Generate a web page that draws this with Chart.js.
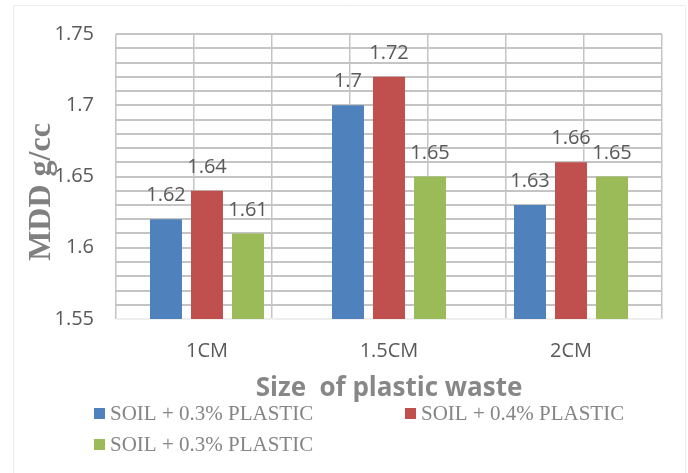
<!DOCTYPE html>
<html>
<head>
<meta charset="utf-8">
<title>MDD vs size of plastic waste</title>
<script src="https://cdn.jsdelivr.net/npm/chart.js@4.4.0/dist/chart.umd.min.js"></script>
<style>
  html, body { margin: 0; padding: 0; background: #fff; }
  #wrap { position: relative; width: 688px; height: 473px; }
</style>
</head>
<body>
<div id="wrap"><canvas id="mddChart" width="688" height="473"></canvas></div>
<script>
// categories and series
const sizes = ["1CM", "1.5CM", "2CM"];
const seriesNames = ["SOIL + 0.3% PLASTIC", "SOIL + 0.4% PLASTIC", "SOIL + 0.3% PLASTIC"];
const soil03a = [1.62, 1.7, 1.63];
const soil04 = [1.64, 1.72, 1.66];
const soil03b = [1.61, 1.65, 1.65];
const yTickLabels = ["1.55", "1.6", "1.65", "1.7", "1.75"];

const seriesColors = ["#4f81bd", "#c0504d", "#9bbb59"];
const yTitle = "MDD g/cc";
const xTitle = "Size  of plastic waste";
const yMin = 1.55, yMax = 1.75;

const gridColor = "#c4c4c4";
const tickFont = { family: "Open Sans", size: 20 };

// white background + faint outer frame
const framePlugin = {
    id: "frame",
    beforeDraw(chart) {
        const ctx = chart.ctx;
        ctx.save();
        ctx.fillStyle = "#fff";
        ctx.fillRect(0, 0, chart.width, chart.height);
        ctx.strokeStyle = "#ececec";
        ctx.lineWidth = 1;
        ctx.beginPath();
        ctx.moveTo(13.5, chart.height);
        ctx.lineTo(13.5, 5.5);
        ctx.lineTo(685.5, 5.5);
        ctx.lineTo(685.5, chart.height);
        ctx.stroke();
        ctx.restore();
    },
    // horizontal grid every 0.01, taken from the yGrid scale ticks;
    // the baseline one is much lighter than the rest
    beforeDatasetsDraw(chart) {
        const ctx = chart.ctx;
        const area = chart.chartArea;
        const scale = chart.scales.yGrid;
        ctx.save();
        scale.ticks.forEach((t, i) => {
            const y = Math.round(scale.getPixelForValue(t.value));
            ctx.fillStyle = i === 0 ? "#eeeeee" : gridColor;
            ctx.fillRect(area.left, y - 1, area.right - area.left, 2);
        });
        ctx.restore();
    }
};

// value above each bar
const valueLabels = {
    id: "valueLabels",
    afterDatasetsDraw(chart) {
        const ctx = chart.ctx;
        ctx.save();
        ctx.font = "20px 'Open Sans'";
        ctx.fillStyle = "#595959";
        ctx.textAlign = "center";
        ctx.textBaseline = "alphabetic";
        chart.data.datasets.forEach((ds, i) => {
            chart.getDatasetMeta(i).data.forEach((bar, j) => {
                ctx.fillText(String(ds.data[j]), bar.x, bar.y - 18);
            });
        });
        ctx.restore();
    }
};

// rotated y title and the legend underneath
const extras = {
    id: "extras",
    afterDraw(chart) {
        const ctx = chart.ctx;
        ctx.save();
        ctx.translate(50, 192);
        ctx.rotate(-Math.PI / 2);
        ctx.font = "bold 32px 'Liberation Serif'";
        ctx.fillStyle = "#808080";
        ctx.textAlign = "center";
        ctx.textBaseline = "alphabetic";
        ctx.fillText(yTitle, 0, 0);
        ctx.restore();

        const spots = [[94, 408], [405, 408], [94, 439]];
        ctx.save();
        ctx.font = "21px 'Liberation Serif'";
        ctx.textBaseline = "alphabetic";
        ctx.textAlign = "left";
        chart.data.datasets.forEach((ds, i) => {
            const [x, y] = spots[i];
            ctx.fillStyle = ds.backgroundColor;
            ctx.fillRect(x, y, 11, 11);
            ctx.fillStyle = "#858585";
            ctx.fillText(ds.label, x + 16, y + 12);
        });
        ctx.restore();
    }
};

const ctx = document.getElementById("mddChart").getContext("2d");

new Chart(ctx, {
    type: "bar",
    data: {
        labels: sizes,
        datasets: [soil03a, soil04, soil03b].map((values, i) => ({
            label: seriesNames[i],
            data: values,
            backgroundColor: seriesColors[i],
            base: yMin,
            categoryPercentage: 0.676,
            barPercentage: 0.78
        }))
    },
    options: {
        responsive: false,
        devicePixelRatio: 1,
        animation: false,
        layout: { padding: { left: 0, right: 26, top: 34, bottom: 63 } },
        plugins: {
            legend: { display: false },
            tooltip: { enabled: false }
        },
        scales: {
            x: {
                grid: { display: false },
                border: { display: false },
                ticks: { color: "#595959", font: tickFont, padding: 12 },
                title: {
                    display: true,
                    text: xTitle,
                    color: "#878787",
                    font: { family: "Open Sans", size: 26, weight: "bold" },
                    padding: { top: 0, bottom: 6 }
                },
                afterFit(scale) { scale.height = 91; }
            },
            // vertical grid lines at category edges and centres
            xGrid: {
                type: "linear",
                axis: "x",
                position: "bottom",
                min: 0,
                max: 6,
                ticks: { display: false, stepSize: 1 },
                grid: { color: gridColor, lineWidth: 1.5, drawTicks: false },
                border: { display: false },
                afterFit(scale) { scale.height = 0; }
            },
            y: {
                min: yMin,
                max: yMax,
                ticks: {
                    stepSize: 0.05,
                    padding: 22,
                    color: "#595959",
                    font: tickFont,
                    callback: function (value) {
                        const s = String(+value.toFixed(2));
                        return yTickLabels.includes(s) ? s : "";
                    }
                },
                grid: { display: false, drawTicks: false },
                border: { display: false },
                afterFit(scale) { scale.width = 116; }
            },
            // only supplies the 0.01 steps for the horizontal grid
            yGrid: {
                type: "linear",
                axis: "y",
                position: "right",
                min: yMin,
                max: yMax,
                ticks: { display: false, stepSize: 0.01, maxTicksLimit: 30 },
                grid: { display: false, drawTicks: false },
                border: { display: false },
                afterFit(scale) { scale.width = 0; }
            }
        }
    },
    plugins: [framePlugin, valueLabels, extras]
});
</script>
</body>
</html>
